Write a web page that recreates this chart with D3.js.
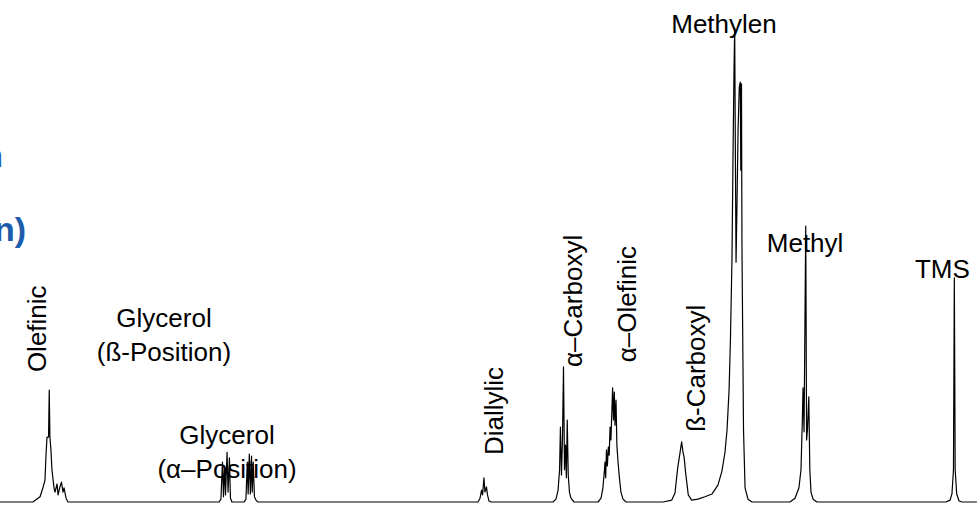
<!DOCTYPE html>
<html>
<head>
<meta charset="utf-8">
<script src="https://cdn.jsdelivr.net/npm/d3@7"></script>
<style>
  body { margin: 0; background: #fff; }
  svg { display: block; }
  text { font-family: "Liberation Sans", Arial, sans-serif; }
</style>
</head>
<body>
<div id="vis-holder"></div>
<script>
// Set dimensions
const width = 977;
const height = 505;

// Spectrum pieces, [ppm, relative intensity]
const olefinicPeak = [
  [5.618, 0], [5.424, 0], [5.382, 1.1], [5.365, 3.0], [5.353, 4.6], [5.347, 9.9],
  [5.341, 13.7], [5.332, 13.7], [5.328, 23.6], [5.324, 13.7], [5.318, 11.0],
  [5.312, 6.8], [5.300, 3.0], [5.294, 2.1], [5.282, 3.8], [5.276, 1.5],
  [5.265, 3.2], [5.256, 4.2], [5.247, 2.1], [5.241, 3.0], [5.229, 0.8], [5.218, 0]
];
const glycerolAlphaPeak = [
  [4.329, 0], [4.318, 0.6], [4.309, 8.4], [4.303, 1.1], [4.297, 7.6], [4.291, 1.5],
  [4.282, 10.5], [4.276, 2.1], [4.268, 9.3], [4.262, 0.8], [4.253, 0],
  [4.182, 0], [4.171, 0.6], [4.163, 8.4], [4.158, 1.7], [4.151, 10.1], [4.145, 1.7],
  [4.138, 9.7], [4.134, 2.1], [4.128, 8.4], [4.121, 1.1], [4.112, 0.4], [4.100, 0]
];
const diallylicPeak = [
  [2.806, 0], [2.794, 0.8], [2.785, 2.5], [2.779, 1.5], [2.771, 5.1], [2.765, 2.1],
  [2.756, 3.2], [2.750, 1.5], [2.741, 0.2], [2.729, 0]
];
const alphaCarboxylPeak = [
  [2.365, 0], [2.347, 0.6], [2.335, 2.5], [2.326, 6.8], [2.321, 15.8], [2.315, 5.7],
  [2.309, 13.1], [2.303, 28.5], [2.297, 6.8], [2.291, 12.0], [2.286, 5.1],
  [2.281, 17.3], [2.275, 5.7], [2.268, 2.1], [2.259, 0.8], [2.241, 0]
];
const alphaOlefinicPeak = [
  [2.100, 0], [2.082, 0.8], [2.071, 3.0], [2.062, 6.8], [2.059, 8.4], [2.055, 5.1],
  [2.050, 11.0], [2.045, 7.6], [2.039, 11.6], [2.034, 9.9], [2.029, 15.8],
  [2.024, 13.1], [2.014, 24.1], [2.009, 17.3], [2.004, 23.2], [2.000, 16.2],
  [1.994, 21.5], [1.989, 12.0], [1.982, 8.4], [1.974, 5.1], [1.965, 2.1],
  [1.953, 0.6], [1.935, 0]
];
const betaCarboxylPeak = [
  [1.718, 0], [1.666, 0.4], [1.647, 1.9], [1.637, 5.3], [1.629, 7.8], [1.622, 9.3],
  [1.615, 11.0], [1.608, 12.7], [1.600, 10.5], [1.593, 9.3], [1.585, 6.3],
  [1.578, 4.2], [1.569, 1.5], [1.549, 0.4]
];
const methylenPeak = [
  [1.512, 0.6], [1.471, 1.1], [1.429, 1.7], [1.394, 3.6], [1.371, 6.5], [1.353, 10.5],
  [1.341, 15.2], [1.329, 23.6], [1.321, 34.2], [1.312, 51.1], [1.306, 72.2],
  [1.300, 91.1], [1.296, 100], [1.292, 74.3], [1.288, 50.6], [1.282, 63.7],
  [1.276, 78.5], [1.269, 87.6], [1.263, 88.6], [1.260, 70.0], [1.256, 88.2],
  [1.253, 53.2], [1.249, 36.3], [1.244, 15.2], [1.235, 3.0], [1.218, 0.6], [1.194, 0]
];
const methylPeak = [
  [0.971, 0], [0.941, 0.8], [0.918, 3.0], [0.906, 6.8], [0.898, 17.3], [0.894, 24.1],
  [0.888, 14.8], [0.878, 58.2], [0.873, 13.1], [0.868, 15.2], [0.860, 22.2],
  [0.854, 6.8], [0.847, 2.1], [0.835, 0.6], [0.812, 0]
];
const tmsPeak = [
  [0.053, 0], [0.029, 0.4], [0.018, 1.7], [0.009, 6.8], [0.004, 47.3], [-0.001, 6.8],
  [-0.010, 1.7], [-0.024, 0.2], [-0.041, 0], [-0.129, 0]
];

// Peak labels: text lines, [ppm, intensity] anchor, rotated or not
const labelTexts = [
  ["Methylen"], ["Methyl"], ["TMS"], ["Glycerol", "(ß-Position)"], ["Glycerol", "(α–Position)"],
  ["Olefinic"], ["Diallylic"], ["α–Carboxyl"], ["α–Olefinic"], ["ß-Carboxyl"]
];
const labelAnchors = [
  [1.359, 98.9], [0.882, 52.7], [0.074, 47.3], [4.653, 36.9], [4.282, 12.2],
  [5.347, 27.4], [2.659, 9.9], [2.194, 28.5], [1.876, 29.5], [1.471, 14.8]
];
const labelRotated = [false, false, false, false, false, true, true, true, true, true];

// Cut-off caption text at the left edge
const edgeTexts = ["(β-Position", "(β-Position)"];

const svg = d3.select("#vis-holder")
    .append("svg")
    .attr("width", width)
    .attr("height", height);

// Scales (ppm runs right to left)
const x = d3.scaleLinear()
    .domain([5.6176, -0.1294])
    .range([0, width]);

const y = d3.scaleLinear()
    .domain([0, 100])
    .range([502, 28]);

// Join the pieces into one trace
const spectrum = [].concat(olefinicPeak, glycerolAlphaPeak, diallylicPeak, alphaCarboxylPeak,
    alphaOlefinicPeak, betaCarboxylPeak, methylenPeak, methylPeak, tmsPeak)
    .sort((a, b) => b[0] - a[0]);

const line = d3.line()
    .x((d) => x(d[0]))
    .y((d) => y(d[1]));

svg.append("path")
    .datum(spectrum)
    .attr("fill", "none")
    .attr("stroke", "#000")
    .attr("stroke-width", 1.2)
    .attr("stroke-linejoin", "round")
    .attr("d", line);

// Labels
labelTexts.forEach((lines, i) => {
  const px = x(labelAnchors[i][0]);
  const py = y(labelAnchors[i][1]);
  const t = svg.append("text")
      .attr("font-size", "26px")
      .attr("fill", "#000");
  if (labelRotated[i]) {
    t.attr("transform", `translate(${px},${py}) rotate(-90)`)
        .attr("text-anchor", "start")
        .text(lines[0]);
  } else {
    t.attr("text-anchor", "middle");
    lines.forEach((s, j) => {
      t.append("tspan")
          .attr("x", px)
          .attr("y", py + j * 34)
          .text(s);
    });
  }
});

// Blue caption remnants
svg.selectAll(".edge")
    .data(edgeTexts)
    .enter()
    .append("text")
    .attr("class", "edge")
    .attr("x", (d, i) => i === 0 ? 3 : 26)
    .attr("y", (d, i) => i === 0 ? 167 : 241)
    .attr("text-anchor", "end")
    .attr("font-size", "34px")
    .attr("font-weight", "bold")
    .attr("fill", "#1b5cab")
    .text((d) => d);
</script>
</body>
</html>
